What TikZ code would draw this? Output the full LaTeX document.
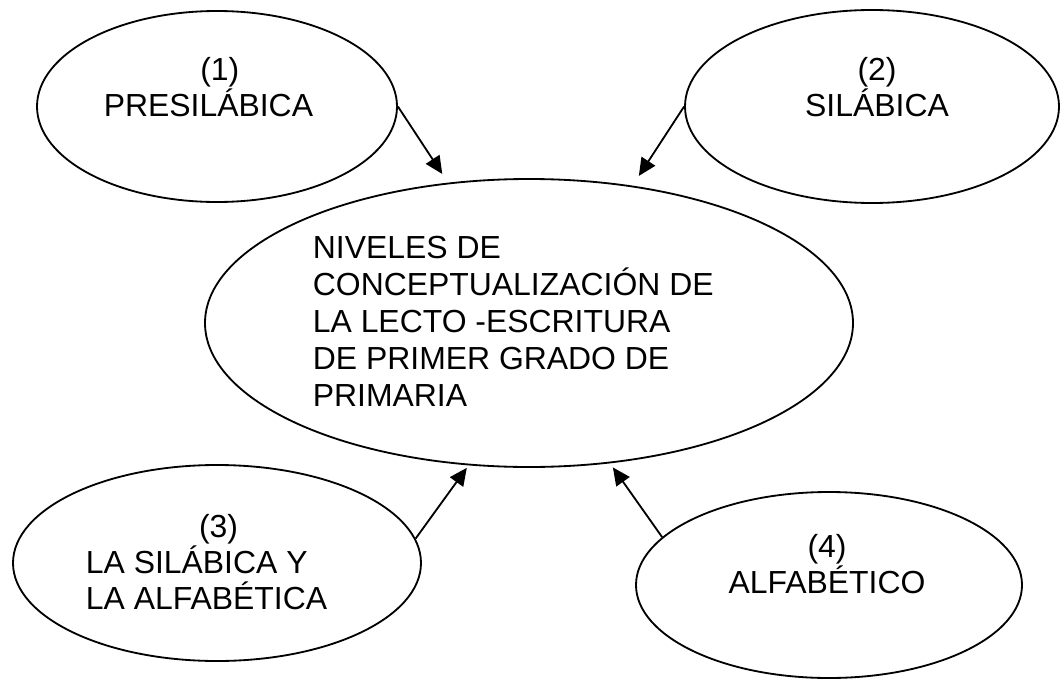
\documentclass[tikz,border=0pt]{standalone}
\usepackage{fontspec}
\setmainfont{Liberation Sans}
\usetikzlibrary{shapes.geometric,arrows.meta}

\begin{document}
\begin{tikzpicture}[
    bubble/.style={draw, ellipse, line width=1.3pt, inner sep=0pt},
    words/.style={font=\fontsize{22.7}{23.5}\selectfont, inner sep=0pt},
    link/.style={-{Triangle[length=12.5pt,width=11.5pt]}, line width=1.3pt},
  ]
  \useasboundingbox (0,0) rectangle (26.525,-17);

  % ellipses
  \node[bubble, minimum width=9cm, minimum height=4.775cm] (presil) at (5.425,-2.6625) {};
  \node[bubble, minimum width=9.35cm, minimum height=4.825cm] (silab) at (21.8,-2.6625) {};
  \node[bubble, minimum width=16.2cm, minimum height=7.2cm] (niveles) at (13.225,-8.075) {};
  \node[bubble, minimum width=10.2cm, minimum height=4.9cm] (silalf) at (5.425,-14.075) {};
  \node[bubble, minimum width=9.65cm, minimum height=4.65cm] (alfab) at (20.725,-14.625) {};

  % texts (anchored on the last line)
  \node[words, align=center, anchor=base] (tpresil) at (5.21,-2.91) {\hspace*{0.57cm}(1)\\PRESILÁBICA};
  \node[words, align=center, anchor=base] (tsilab) at (21.925,-2.91) {(2)\\SILÁBICA};
  \node[words, align=left, anchor=base west, font=\fontsize{22.7}{26.3}\selectfont]
    (tniveles) at (7.815,-10.15)
    {NIVELES DE\\CONCEPTUALIZACIÓN DE\\LA LECTO -ESCRITURA\\DE PRIMER GRADO DE\\PRIMARIA};
  \node[words, align=left, anchor=base west, font=\fontsize{22.7}{25.6}\selectfont]
    (tsilalf) at (2.14,-15.225)
    {\hspace*{2.83cm}(3)\\LA SILÁBICA Y\\LA ALFABÉTICA};
  \node[words, align=center, anchor=base] (talfab) at (20.675,-14.825) {(4)\\ALFABÉTICO};

  % arrows into the centre
  \draw[link, shorten >=0.26cm] (presil.east) -- (niveles.120);
  \draw[link, shorten >=0.29cm] (silab.west) -- (niveles.53);
  \draw[link, shorten >=0.075cm] (silalf.7) -- (niveles.247);
  \draw[link, shorten >=0.125cm] (alfab.164) -- (niveles.300);
\end{tikzpicture}
\end{document}
